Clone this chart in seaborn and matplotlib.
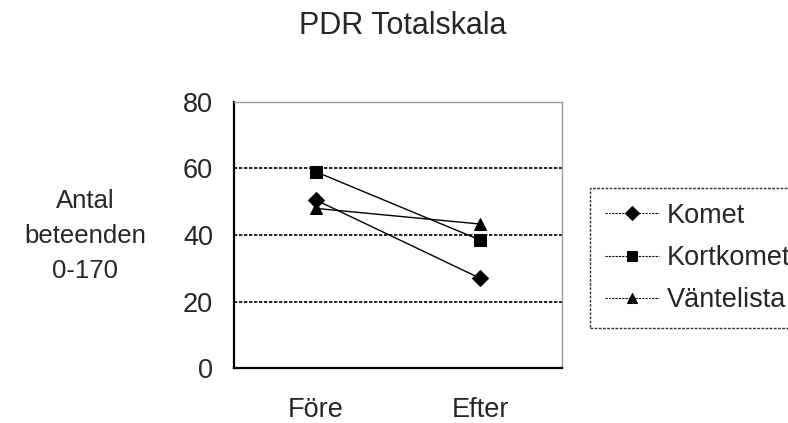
import matplotlib
matplotlib.use("Agg")
import matplotlib.pyplot as plt
import seaborn as sns
import pandas as pd

categories = ["Före", "Efter"]
komet = [50.5, 27.0]
kortkomet = [59.0, 38.5]
vantelista = [48.0, 43.3]
series_names = ["Komet", "Kortkomet", "Väntelista"]
y_ticks = [0, 20, 40, 60, 80]

rows = []
for name, vals in zip(series_names, [komet, kortkomet, vantelista]):
    for c, v in zip(categories, vals):
        rows.append({"tid": c, "varde": v, "grupp": name})
df = pd.DataFrame(rows)

sns.set_style("white")
plt.rcParams["font.family"] = ["Liberation Sans", "DejaVu Sans"]

fig = plt.figure(figsize=(7.88, 4.23), dpi=100)
ax = fig.add_axes([234 / 788, 55 / 423, 328 / 788, 266 / 423])

sns.lineplot(data=df, x="tid", y="varde", hue="grupp", style="grupp",
             markers=["D", "s", "^"], dashes=False,
             palette=["black"] * 3, linewidth=1.0, markersize=8,
             markeredgecolor="black", sort=False, ax=ax)

ax.set_xlim(-0.5, 1.5)
ax.set_ylim(0, 80)
ax.set_yticks(y_ticks)
ax.set_yticklabels([str(t) for t in y_ticks], fontsize=19.5)
ax.set_xticks([-0.5, 0.5, 1.5])
ax.set_xticklabels([])
ax.set_xticks([0, 1], minor=True)
ax.set_xticklabels(categories, minor=True, fontsize=19.5)
ax.tick_params(axis="x", which="minor", length=0, pad=21)
ax.tick_params(axis="x", which="major", direction="out", length=6.5, width=1.2, color="black")
ax.tick_params(axis="y", which="major", direction="inout", length=10, width=1.2, color="black", pad=10)
ax.set_xlabel("")
ax.set_ylabel("")

for y in [20, 40, 60]:
    ax.axhline(y, color="black", linewidth=1.2, linestyle=(0, (2, 1)), zorder=0)

for s in ["left", "bottom"]:
    ax.spines[s].set_color("black")
    ax.spines[s].set_linewidth(1.6)
for s in ["top", "right"]:
    ax.spines[s].set_color("#9a9a9a")
    ax.spines[s].set_linewidth(1.0)

handles, labels = ax.get_legend_handles_labels()
if ax.legend_:
    ax.legend_.remove()
leg = fig.legend(handles, labels, loc="upper left",
                 bbox_to_anchor=(590 / 788, 1 - 188 / 423),
                 fontsize=19.5, frameon=True, fancybox=False,
                 handlelength=2.0, handletextpad=0.3, labelspacing=0.6,
                 borderpad=0.55, borderaxespad=0, markerscale=0.85)
leg.get_frame().set_edgecolor("black")
leg.get_frame().set_linewidth(1.0)
leg.get_frame().set_linestyle((0, (2, 1)))
for h in leg.legend_handles:
    h.set_linewidth(0.8)
    h.set_linestyle((0, (2, 1)))

fig.text(402.5 / 788, 1 - 26 / 423, "PDR Totalskala", ha="center", va="center", fontsize=22)
fig.text(85 / 788, 1 - 236 / 423, "Antal\nbeteenden\n0-170", ha="center", va="center",
         fontsize=18.5, linespacing=1.6)

fig.savefig("out.png", dpi=100)
